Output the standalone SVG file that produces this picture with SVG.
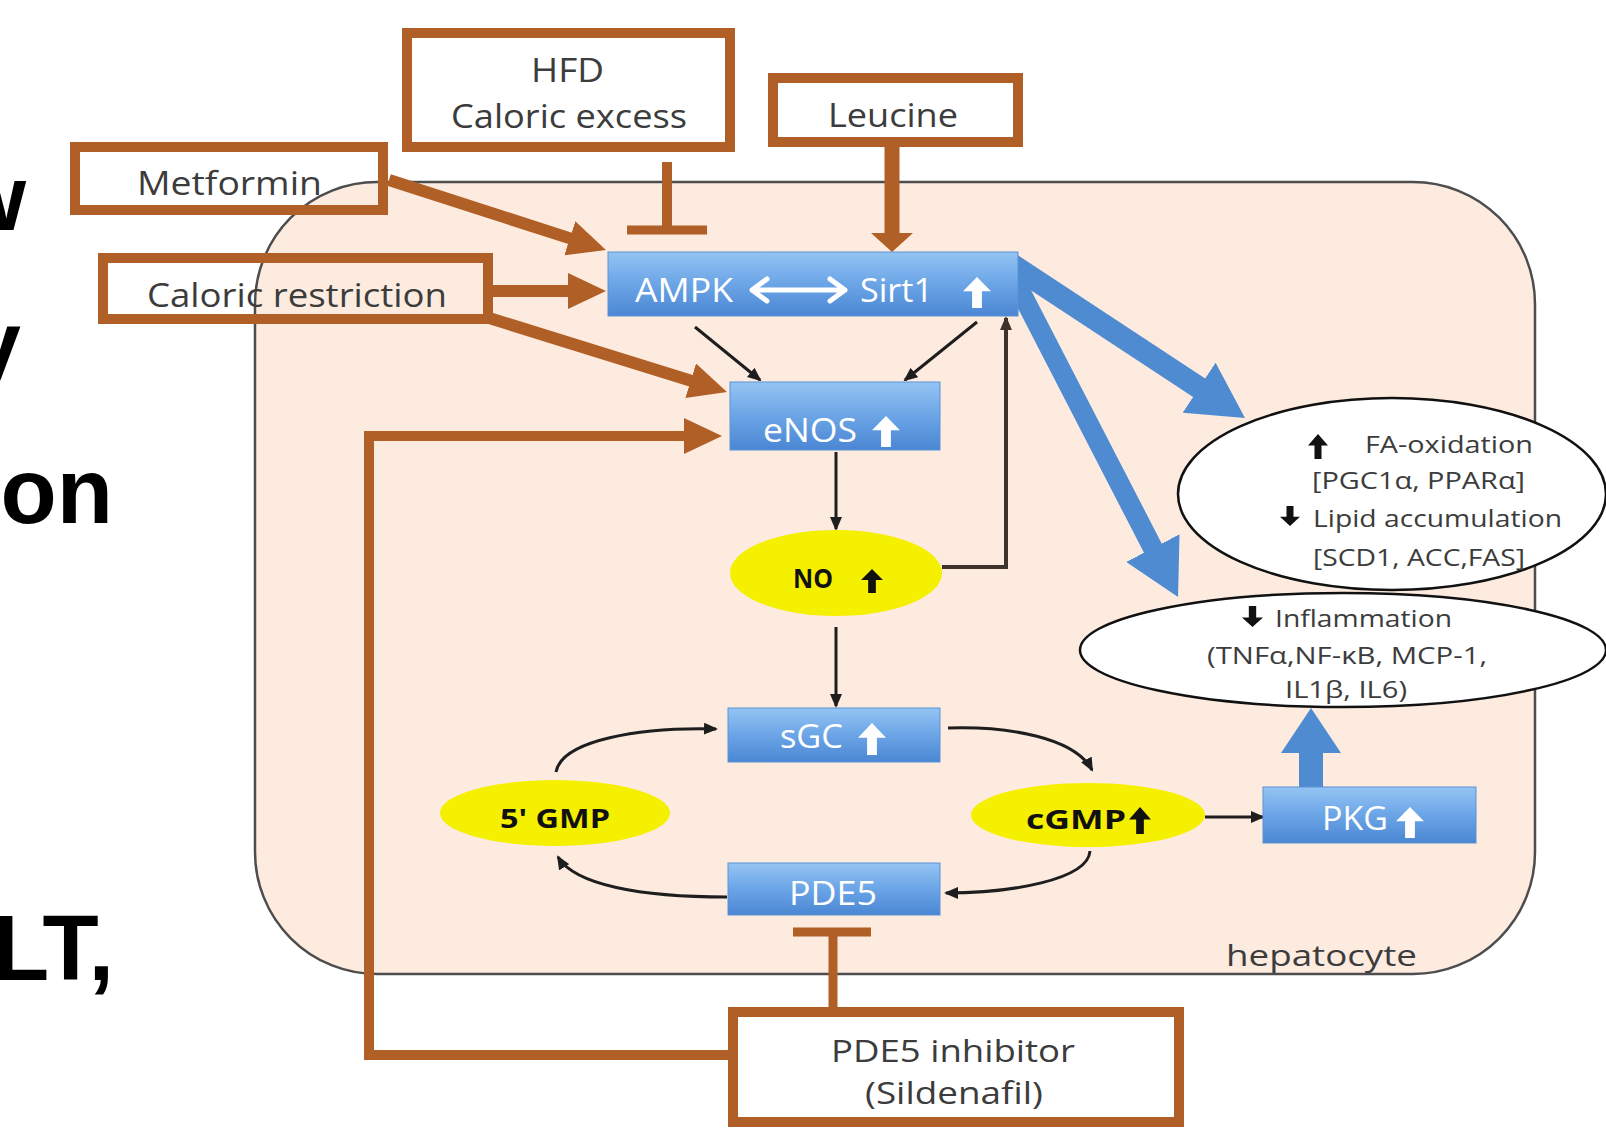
<svg xmlns="http://www.w3.org/2000/svg" width="1606" height="1140" viewBox="0 0 1606 1140">
<style>
.bg{fill:#ffffff}
.cell{fill:#fdebe0;stroke:#4d4d4d;stroke-width:2.5}
.bbox{fill:none;stroke:#b05f26;stroke-width:10}
.blue{fill:url(#bluegrad);stroke:#5b92d4;stroke-width:1}
.yel{fill:#f5ef00}
.oval{fill:#ffffff;stroke:#111;stroke-width:2.5}
.t{font-family:'Open Sans','Liberation Sans',sans-serif;fill:#3c3c3c}
.tw{font-family:'Open Sans','Liberation Sans',sans-serif;fill:#ffffff}
.tb{font-family:'Open Sans','Liberation Sans',sans-serif;font-weight:bold;fill:#111}
.big{font-family:'Liberation Sans',Arial,sans-serif;font-weight:bold;font-size:92px;fill:#000}
.brown{fill:none;stroke:#b05f26}
.blk{fill:none;stroke:#1e1e1e;stroke-width:3}
.bl{fill:none;stroke:#4f8bd1}
.wa{fill:#ffffff}
.ka{fill:#111111}
</style>
<defs>
<linearGradient id="bluegrad" x1="0" y1="0" x2="0" y2="1">
<stop offset="0" stop-color="#94c4f3"/>
<stop offset="0.45" stop-color="#6fa8e8"/>
<stop offset="1" stop-color="#4a86d3"/>
</linearGradient>
<symbol id="up" viewBox="0 0 20 24" preserveAspectRatio="none">
<path d="M10,0 L20,11 L13.5,11 L13.5,24 L6.5,24 L6.5,11 L0,11 z"/>
</symbol>
<symbol id="down" viewBox="0 0 20 24" preserveAspectRatio="none">
<path d="M10,24 L20,13 L13.5,13 L13.5,0 L6.5,0 L6.5,13 L0,13 z"/>
</symbol>
<marker id="mBrown" viewBox="0 0 38 36" refX="2" refY="18" markerWidth="38" markerHeight="36" markerUnits="userSpaceOnUse" orient="auto">
<path d="M0,0 L38,18 L0,36 z" fill="#b05f26"/>
</marker>
<marker id="mBlue" viewBox="0 0 55 60" refX="1" refY="30" markerWidth="55" markerHeight="60" markerUnits="userSpaceOnUse" orient="auto">
<path d="M0,0 L55,30 L0,60 z" fill="#4f8bd1"/>
</marker>
<marker id="mBlueS" viewBox="0 0 45 60" refX="1" refY="30" markerWidth="45" markerHeight="60" markerUnits="userSpaceOnUse" orient="auto">
<path d="M0,0 L45,30 L0,60 z" fill="#4f8bd1"/>
</marker>
<marker id="mBlk" viewBox="0 0 14 12" refX="12" refY="6" markerWidth="14" markerHeight="12" markerUnits="userSpaceOnUse" orient="auto">
<path d="M0,0 L14,6 L0,12 z" fill="#1e1e1e"/>
</marker>
<marker id="mDk" viewBox="0 0 14 12" refX="12" refY="6" markerWidth="14" markerHeight="12" markerUnits="userSpaceOnUse" orient="auto">
<path d="M0,0 L14,6 L0,12 z" fill="#3e332c"/>
</marker>
</defs>
<rect class="bg" x="0" y="0" width="1606" height="1140"/>

<g id="slide-text">
<text class="big" x="26" y="230" text-anchor="end">w</text>
<text class="big" x="21" y="376" text-anchor="end">y</text>
<text class="big" x="113" y="523" text-anchor="end">on</text>
<text class="big" x="114" y="980" text-anchor="end">LT,</text>
</g>

<g id="hepatocyte">
<rect class="cell" x="255" y="182" width="1280" height="792" rx="122" ry="122"/>
<text class="t" x="1226" y="966" font-size="30" textLength="191" lengthAdjust="spacingAndGlyphs">hepatocyte</text>
</g>

<g id="connectors">
<line class="brown" x1="389" y1="180" x2="571.7" y2="238.9" stroke-width="12" marker-end="url(#mBrown)"/>
<line class="brown" x1="493" y1="291" x2="570" y2="291" stroke-width="12" marker-end="url(#mBrown)"/>
<line class="brown" x1="486" y1="317" x2="692.6" y2="381.3" stroke-width="12" marker-end="url(#mBrown)"/>
<polyline class="brown" points="728,1055 369,1055 369,436 686,436" stroke-width="10" marker-end="url(#mBrown)"/>
<line class="brown" x1="892" y1="147" x2="892" y2="236" stroke-width="15"/>
<polygon points="871,233 913,233 892,252" fill="#b05f26"/>
<line class="brown" x1="667" y1="162" x2="667" y2="230" stroke-width="10"/>
<line class="brown" x1="627" y1="230" x2="707" y2="230" stroke-width="9"/>
<line class="brown" x1="833" y1="1008" x2="833" y2="932" stroke-width="9"/>
<line class="brown" x1="793" y1="932" x2="871" y2="932" stroke-width="9"/>
<line class="bl" x1="1008" y1="262" x2="1199.9" y2="388.3" stroke-width="22" marker-end="url(#mBlue)"/>
<line class="bl" x1="1012" y1="275" x2="1153.3" y2="549" stroke-width="20" marker-end="url(#mBlue)"/>
<line class="bl" x1="1311" y1="790" x2="1311" y2="752" stroke-width="24" marker-end="url(#mBlueS)"/>
<line class="blk" x1="695" y1="327" x2="760" y2="380" marker-end="url(#mBlk)"/>
<line class="blk" x1="977" y1="322" x2="905" y2="380" marker-end="url(#mBlk)"/>
<line class="blk" x1="836" y1="452" x2="836" y2="529" marker-end="url(#mBlk)"/>
<line class="blk" x1="836" y1="627" x2="836" y2="706" marker-end="url(#mBlk)"/>
<polyline points="942,567 1006,567 1006,318" fill="none" stroke="#3e332c" stroke-width="4" marker-end="url(#mDk)"/>
<path class="blk" d="M556,772 C562,740 640,727 716,729" marker-end="url(#mBlk)"/>
<path class="blk" d="M948,728 C1010,726 1075,738 1092,770" marker-end="url(#mBlk)"/>
<path class="blk" d="M1090,851 C1088,880 1010,893 946,893" marker-end="url(#mBlk)"/>
<path class="blk" d="M727,897 C640,897 575,885 558,857" marker-end="url(#mBlk)"/>
<line class="blk" x1="1205" y1="817" x2="1263" y2="817" marker-end="url(#mBlk)"/>
</g>

<g id="metformin">
<rect class="bbox" x="75" y="147" width="308" height="63"/>
<text class="t" x="137" y="195" font-size="32" textLength="185" lengthAdjust="spacingAndGlyphs">Metformin</text>
</g>
<g id="caloric-restriction">
<rect class="bbox" x="103" y="258" width="385" height="61"/>
<text class="t" x="147" y="307" font-size="32" textLength="300" lengthAdjust="spacingAndGlyphs">Caloric restriction</text>
</g>
<g id="hfd">
<rect class="bbox" x="407" y="33" width="323" height="114"/>
<text class="t" x="531" y="82" font-size="32" textLength="73" lengthAdjust="spacingAndGlyphs">HFD</text>
<text class="t" x="451" y="128" font-size="32" textLength="236" lengthAdjust="spacingAndGlyphs">Caloric excess</text>
</g>
<g id="leucine">
<rect class="bbox" x="773" y="78" width="245" height="64"/>
<text class="t" x="828" y="127" font-size="32" textLength="130" lengthAdjust="spacingAndGlyphs">Leucine</text>
</g>
<g id="pde5-inhibitor">
<rect class="bbox" x="733" y="1012" width="446" height="110"/>
<text class="t" x="831" y="1062" font-size="31" textLength="244" lengthAdjust="spacingAndGlyphs">PDE5 inhibitor</text>
<text class="t" x="865" y="1104" font-size="31" textLength="178" lengthAdjust="spacingAndGlyphs">(Sildenafil)</text>
</g>

<g id="ampk-sirt1">
<rect class="blue" x="608" y="252" width="410" height="64"/>
<text class="tw" x="635" y="302" font-size="33" textLength="98" lengthAdjust="spacingAndGlyphs">AMPK</text>
<path d="M752,290 H845 M767,279 L752,290 L767,301 M830,279 L845,290 L830,301" fill="none" stroke="#ffffff" stroke-width="5" stroke-linecap="round" stroke-linejoin="round"/>
<text class="tw" x="860" y="302" font-size="33" textLength="73" lengthAdjust="spacingAndGlyphs">Sirt1</text>
<use href="#up" class="wa" x="963" y="277" width="28" height="31"/>
</g>
<g id="enos">
<rect class="blue" x="730" y="382" width="210" height="68"/>
<text class="tw" x="763" y="442" font-size="33" textLength="94" lengthAdjust="spacingAndGlyphs">eNOS</text>
<use href="#up" class="wa" x="872" y="416" width="28" height="31"/>
</g>
<g id="no">
<ellipse class="yel" cx="836" cy="573" rx="106" ry="43"/>
<text class="tb" x="793" y="588" font-size="26" textLength="40" lengthAdjust="spacingAndGlyphs">NO</text>
<use href="#up" class="ka" x="861" y="569" width="22" height="24"/>
</g>
<g id="sgc">
<rect class="blue" x="728" y="708" width="212" height="54"/>
<text class="tw" x="780" y="748" font-size="32" textLength="63" lengthAdjust="spacingAndGlyphs">sGC</text>
<use href="#up" class="wa" x="858" y="723" width="28" height="32"/>
</g>
<g id="gmp5">
<ellipse class="yel" cx="555" cy="813" rx="115" ry="33"/>
<text class="tb" x="500" y="828" font-size="27" textLength="110" lengthAdjust="spacingAndGlyphs">5' GMP</text>
</g>
<g id="cgmp">
<ellipse class="yel" cx="1088" cy="815" rx="117" ry="32"/>
<text class="tb" x="1026" y="829" font-size="27" textLength="100" lengthAdjust="spacingAndGlyphs">cGMP</text>
<use href="#up" class="ka" x="1129" y="807" width="22" height="27"/>
</g>
<g id="pde5">
<rect class="blue" x="728" y="863" width="212" height="52"/>
<text class="tw" x="789" y="905" font-size="32" textLength="88" lengthAdjust="spacingAndGlyphs">PDE5</text>
</g>
<g id="pkg">
<rect class="blue" x="1263" y="787" width="213" height="56"/>
<text class="tw" x="1322" y="830" font-size="32" textLength="66" lengthAdjust="spacingAndGlyphs">PKG</text>
<use href="#up" class="wa" x="1396" y="807" width="28" height="31"/>
</g>
<g id="fa-oxidation">
<ellipse class="oval" cx="1392" cy="494" rx="214" ry="96"/>
<use href="#up" class="ka" x="1308" y="434" width="20" height="25"/>
<text class="t" x="1365" y="453" font-size="24" textLength="168" lengthAdjust="spacingAndGlyphs">FA-oxidation</text>
<text class="t" x="1312" y="489" font-size="24" textLength="213" lengthAdjust="spacingAndGlyphs">[PGC1α, PPARα]</text>
<use href="#down" class="ka" x="1280" y="506" width="20" height="20"/>
<text class="t" x="1313" y="527" font-size="24" textLength="249" lengthAdjust="spacingAndGlyphs">Lipid accumulation</text>
<text class="t" x="1313" y="566" font-size="24" textLength="212" lengthAdjust="spacingAndGlyphs">[SCD1, ACC,FAS]</text>
</g>
<g id="inflammation">
<ellipse class="oval" cx="1343" cy="650" rx="263" ry="57"/>
<use href="#down" class="ka" x="1242" y="606" width="21" height="21"/>
<text class="t" x="1275" y="627" font-size="24" textLength="177" lengthAdjust="spacingAndGlyphs">Inflammation</text>
<text class="t" x="1207" y="664" font-size="24" textLength="280" lengthAdjust="spacingAndGlyphs">(TNFα,NF-κB, MCP-1,</text>
<text class="t" x="1285" y="698" font-size="24" textLength="122" lengthAdjust="spacingAndGlyphs">IL1β, IL6)</text>
</g>
</svg>
